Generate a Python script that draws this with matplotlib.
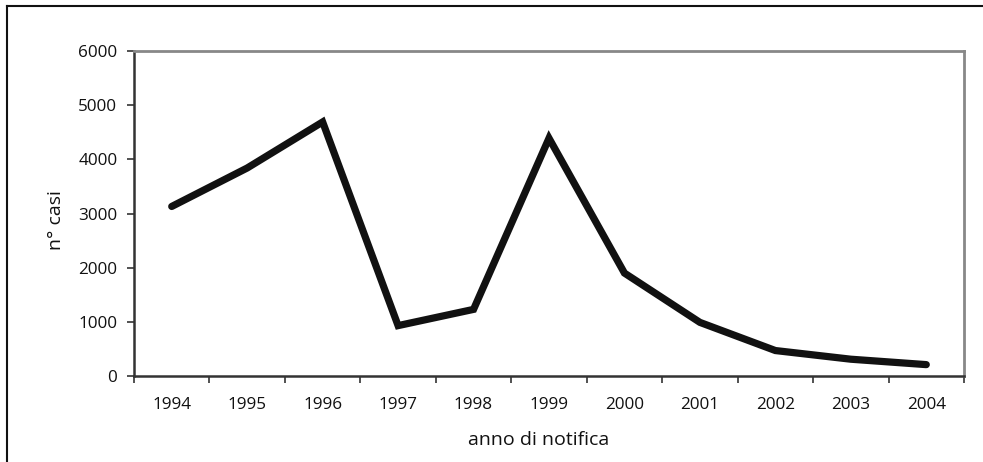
import matplotlib
matplotlib.use('Agg')
import matplotlib.pyplot as plt
from matplotlib.lines import Line2D

plt.rcParams['font.family'] = ['Open Sans', 'DejaVu Sans']

years = ['1994', '1995', '1996', '1997', '1998', '1999', '2000', '2001', '2002', '2003', '2004']
casi = [3130, 3840, 4690, 930, 1230, 4390, 1900, 990, 470, 310, 210]

fig = plt.figure(figsize=(9.83, 4.62), dpi=100)
ax = fig.add_axes([134 / 983, 86 / 462, 830 / 983, 325 / 462])

x = list(range(len(years)))
ax.plot(x, casi, color='#111111', linewidth=5.2, solid_joinstyle='miter', solid_capstyle='round')

ax.set_xlim(-0.5, len(years) - 0.5)
ax.set_ylim(0, 6000)
ax.set_yticks(range(0, 6001, 1000))
ax.set_xticks(x)
ax.set_xticklabels(years)
ax.set_xticks([i - 0.5 for i in range(len(years) + 1)], minor=True)
ax.tick_params(axis='x', which='major', length=0, pad=15, labelsize=12.3, colors='#111111')
ax.tick_params(axis='x', which='minor', length=5, width=1.2, color='#333333')
ax.tick_params(axis='y', length=5, width=1.2, pad=7, labelsize=12.3, color='#333333', labelcolor='#111111')

for s in ['left', 'bottom']:
    ax.spines[s].set_color('#333333')
    ax.spines[s].set_linewidth(1.8)
for s in ['top', 'right']:
    ax.spines[s].set_color('#888888')
    ax.spines[s].set_linewidth(2)

ax.set_xlabel('anno di notifica', fontsize=14, color='#111111')
ax.set_ylabel('n° casi', fontsize=14, color='#111111')
ax.xaxis.set_label_coords(0.487, -0.168)
ax.yaxis.set_label_coords(-0.083, 0.48)

# outer frame (left and top edges visible)
fig.add_artist(Line2D([7 / 983, 7 / 983], [0, 1 - 6 / 462], transform=fig.transFigure, color='#111111', linewidth=1.5))
fig.add_artist(Line2D([7 / 983, 1], [1 - 6 / 462, 1 - 6 / 462], transform=fig.transFigure, color='#111111', linewidth=1.5))

fig.savefig('out.png', dpi=100)
